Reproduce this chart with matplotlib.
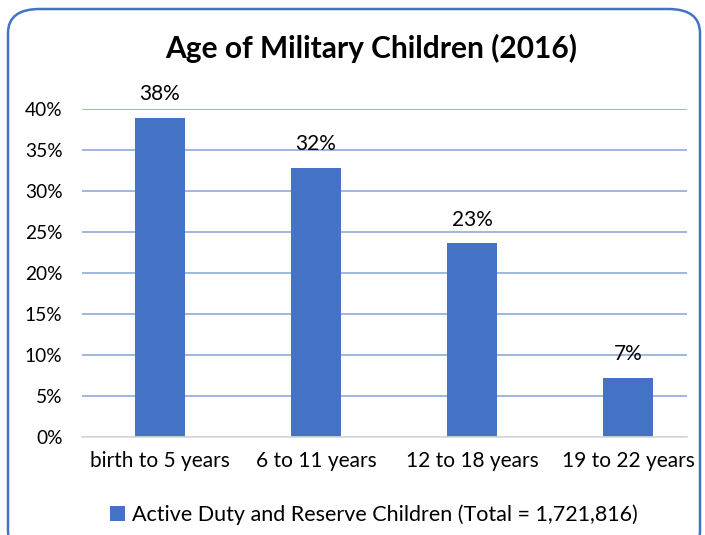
import matplotlib
matplotlib.use("Agg")
import matplotlib.pyplot as plt
from matplotlib.patches import FancyBboxPatch, Patch

categories = ["birth to 5 years", "6 to 11 years", "12 to 18 years", "19 to 22 years"]
values = [38.9, 32.8, 23.6, 7.2]
value_labels = ["38%", "32%", "23%", "7%"]
y_ticks = [0, 5, 10, 15, 20, 25, 30, 35, 40]
series_name = "Active Duty and Reserve Children (Total = 1,721,816)"

BLUE = "#4472C4"
GRID = "#8FAADC"
plt.rcParams["font.family"] = ["Lato", "DejaVu Sans"]

fig = plt.figure(figsize=(7.05, 5.35), dpi=100, facecolor="white")
W, H = 705, 535

# rounded chart frame
frame = FancyBboxPatch((8 / W, -20 / H), 692 / W, 546 / H,
                       boxstyle="round,pad=0,rounding_size=0.045",
                       transform=fig.transFigure, facecolor="none",
                       edgecolor=BLUE, linewidth=1.8, zorder=5)
fig.patches.append(frame)

ax = fig.add_axes([82 / W, (H - 437) / H, (687 - 82) / W, (437 - 109) / H])
ax.set_facecolor("none")
x = list(range(len(categories)))
ax.bar(x, values, width=0.315, color=BLUE, zorder=3)
for xi, v, lab in zip(x, values, value_labels):
    ax.text(xi, v + 1.7, lab, ha="center", va="bottom", fontsize=15)

ax.set_xlim(-0.5, 3.378)
ax.set_ylim(0, 40)
ax.set_yticks(y_ticks)
ax.set_yticklabels([f"{t}%" for t in y_ticks], fontsize=13.8)
ax.set_xticks(x)
ax.set_xticklabels(categories, fontsize=15)
ax.tick_params(length=0)
ax.tick_params(axis="y", pad=14)
ax.tick_params(axis="x", pad=10)
ax.grid(axis="y", color=GRID, linewidth=1.2, zorder=0)
for s in ("top", "right", "left"):
    ax.spines[s].set_visible(False)
ax.spines["bottom"].set_color("#D9D9D9")
ax.spines["bottom"].set_linewidth(1.2)
ax.spines["bottom"].set_zorder(4)

fig.text(371 / W, 1 - 48 / H, "Age of Military Children (2016)",
         ha="center", va="center", fontsize=21.5, fontweight="bold")

handle = Patch(facecolor=BLUE, edgecolor="none")
fig.legend([handle], [series_name], loc="center",
           bbox_to_anchor=(374 / W, 1 - 515 / H), frameon=False,
           fontsize=15.5, handlelength=0.7, handleheight=0.7,
           handletextpad=0.3)

fig.savefig("out.png", dpi=100)
